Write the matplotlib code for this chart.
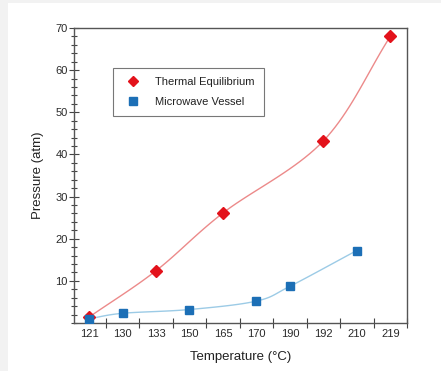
import numpy as np
import matplotlib
matplotlib.use("Agg")
import matplotlib.pyplot as plt
from matplotlib.patches import Rectangle
from matplotlib.ticker import MultipleLocator, FixedLocator

plt.rcParams['font.family'] = ['Liberation Sans', 'DejaVu Sans']

categories = ["121", "130", "133", "150", "165", "170", "190", "192", "210", "219"]
thermal_idx = [0, 2, 4, 7, 9]
thermal_vals = [1.4, 12.4, 26.1, 43.2, 68.0]
micro_idx = [0, 1, 3, 5, 6, 8]
micro_vals = [1.0, 2.3, 3.2, 5.2, 8.7, 17.2]


def smooth(xs, ys, n=20):
    xs = np.asarray(xs, float)
    ys = np.asarray(ys, float)
    px = np.concatenate([[2 * xs[0] - xs[1]], xs, [2 * xs[-1] - xs[-2]]])
    py = np.concatenate([[2 * ys[0] - ys[1]], ys, [2 * ys[-1] - ys[-2]]])
    outx, outy = [], []
    for i in range(1, len(px) - 2):
        t = np.linspace(0, 1, n, endpoint=False)
        for arr, out in ((px, outx), (py, outy)):
            p0, p1, p2, p3 = arr[i - 1], arr[i], arr[i + 1], arr[i + 2]
            out.extend(0.5 * ((2 * p1) + (-p0 + p2) * t
                              + (2 * p0 - 5 * p1 + 4 * p2 - p3) * t ** 2
                              + (-p0 + 3 * p1 - 3 * p2 + p3) * t ** 3))
    outx.append(xs[-1])
    outy.append(ys[-1])
    return np.array(outx), np.array(outy)


fig = plt.figure(figsize=(4.41, 3.71), dpi=100, facecolor='#f2f2f2')
fig.patches.append(Rectangle((8 / 441, 0), 1, 1 - 3 / 371, transform=fig.transFigure,
                             facecolor='white', edgecolor='none', zorder=-1))
ax = fig.add_axes([74 / 441, 1 - 323 / 371, 333 / 441, 295 / 371])

sx, sy = smooth(thermal_idx, thermal_vals)
ax.plot(sx, sy, color='#ec8a8a', lw=1.0, zorder=2)
sx, sy = smooth(micro_idx, micro_vals)
ax.plot(sx, sy, color='#9ccbe6', lw=1.0, zorder=2)

ax.plot(thermal_idx, thermal_vals, linestyle='none', marker='D', ms=6,
        color='#e3121b', label='Thermal Equilibrium', zorder=3)
ax.plot(micro_idx, micro_vals, linestyle='none', marker='s', ms=6,
        color='#1c6fb6', label='Microwave Vessel', zorder=3)

ax.set_xlim(-0.45, 9.5)
ax.set_ylim(0, 70)
ax.xaxis.set_major_locator(FixedLocator(np.arange(-0.5, 10, 1)))
ax.xaxis.set_major_formatter(plt.NullFormatter())
ax.xaxis.set_minor_locator(FixedLocator(np.arange(len(categories))))
ax.set_xticklabels(categories, minor=True)
ax.tick_params(axis='x', which='major', direction='inout', length=7, width=0.8, color='#444444')
ax.tick_params(axis='x', which='minor', length=0, labelsize=8, labelcolor='#2a2a2a', pad=4)

ax.yaxis.set_major_locator(FixedLocator([10, 20, 30, 40, 50, 60, 70]))
ax.yaxis.set_minor_locator(MultipleLocator(2))
ax.tick_params(axis='y', which='major', direction='inout', length=7, width=0.8,
               labelsize=8, labelcolor='#2a2a2a', color='#444444', pad=1)
ax.tick_params(axis='y', which='minor', direction='inout', length=4, width=0.8, color='#444444')

for s in ax.spines.values():
    s.set_color('#555555')
    s.set_linewidth(1.0)

ax.set_xlabel('Temperature (°C)', fontsize=9.5, color='#222222', labelpad=9)
ax.set_ylabel('Pressure (atm)', fontsize=9.5, color='#222222', labelpad=8)

leg = ax.legend(loc='upper left', bbox_to_anchor=(0.117, 0.865), fontsize=8,
                frameon=True, fancybox=False, borderpad=0.8, labelspacing=0.9,
                handletextpad=1.0, borderaxespad=0, markerscale=0.85)
leg.get_frame().set_edgecolor('#555555')
leg.get_frame().set_linewidth(0.8)
for t in leg.get_texts():
    t.set_color('#222222')

fig.savefig('out.png', dpi=100, facecolor=fig.get_facecolor())
